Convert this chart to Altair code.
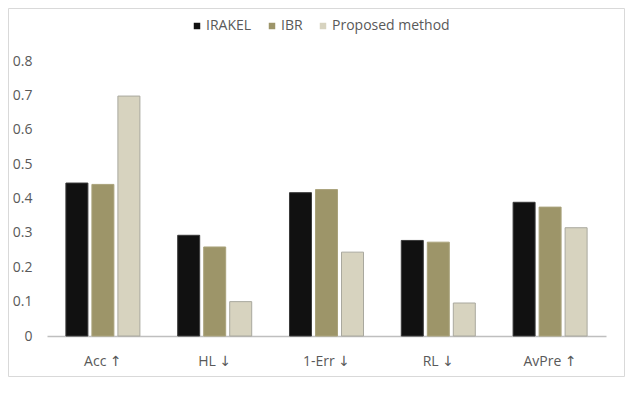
import altair as alt
import pandas as pd

categories = ["Acc ↑", "HL ↓", "1-Err ↓", "RL ↓", "AvPre ↑"]
series = ["IRAKEL", "IBR", "Proposed method"]
irakel = [0.445, 0.293, 0.417, 0.278, 0.389]
ibr = [0.441, 0.259, 0.426, 0.273, 0.375]
proposed = [0.698, 0.100, 0.244, 0.096, 0.315]
y_ticks = [0, 0.1, 0.2, 0.3, 0.4, 0.5, 0.6, 0.7, 0.8]
colors = ["#111111", "#9d9569", "#d7d3bf"]
strokes = ["#3a3a3a", "#aaa37c", "#a9a89e"]

rows = []
for name, vals in zip(series, [irakel, ibr, proposed]):
    for c, v in zip(categories, vals):
        rows.append({"metric": c, "method": name, "value": v})
df = pd.DataFrame(rows)

FONT = "Open Sans, DejaVu Sans"
TXT = "#595959"

bars = alt.Chart(df).mark_bar(strokeWidth=1).encode(
    x=alt.X("metric:N", sort=categories, title=None,
            scale=alt.Scale(paddingInner=0.338, paddingOuter=0.169),
            axis=alt.Axis(labelAngle=0, ticks=False, labelPadding=18,
                          domainColor="#bfbfbf", domainWidth=1.5,
                          labelFont=FONT, labelFontSize=14, labelColor=TXT)),
    xOffset=alt.XOffset("method:N", sort=series,
                        scale=alt.Scale(paddingInner=0.154, paddingOuter=0)),
    y=alt.Y("value:Q", title=None,
            scale=alt.Scale(domain=[0, 0.8], nice=False, zero=True),
            axis=alt.Axis(values=y_ticks, grid=False, domain=False, ticks=False,
                          labelPadding=15, labelFont=FONT, labelFontSize=14,
                          labelColor=TXT,
                          labelExpr="datum.value == 0 ? '0' : format(datum.value, '.1f')")),
    color=alt.Color("method:N", sort=series,
                    scale=alt.Scale(domain=series, range=colors),
                    legend=alt.Legend(title=None, orient="none", direction="horizontal",
                                      legendX=143, legendY=-42,
                                      symbolType="square", symbolSize=42,
                                      symbolStrokeWidth=0,
                                      labelFont=FONT, labelFontSize=14, labelColor=TXT,
                                      labelOffset=2, columnPadding=13)),
    stroke=alt.Stroke("method:N", sort=series,
                      scale=alt.Scale(domain=series, range=strokes), legend=None),
)

border = alt.Chart(alt.Data(values=[{"a": 1}])).mark_rect(
    fill="transparent", stroke="#d9d9d9", strokeWidth=1
).encode(
    x=alt.value(-38.5), x2=alt.value(577.5),
    y=alt.value(-52.5), y2=alt.value(315.5),
)

chart = alt.layer(border, bars).properties(
    width=559, height=275,
    background="white",
    autosize=alt.AutoSizeParams(type="none"),
    padding={"left": 39, "top": 53, "right": 19, "bottom": 41},
).configure_view(strokeWidth=0, stroke="transparent")

chart.save("out.html", embed_options={"renderer": "svg", "actions": False})
